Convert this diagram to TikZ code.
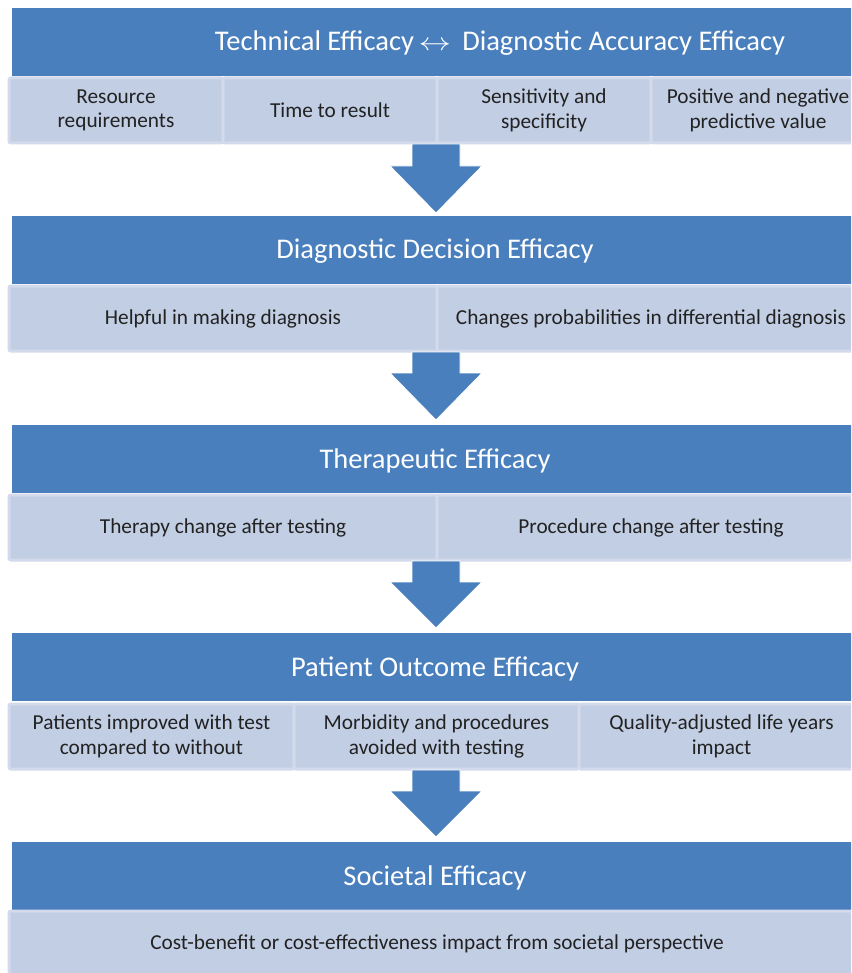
\documentclass[tikz,border=0pt]{standalone}
\usepackage{fontspec}
\setmainfont{Carlito}
\definecolor{hdrblue}{RGB}{74,127,190}
\definecolor{subfill}{RGB}{194,206,228}
\definecolor{subedge}{RGB}{210,218,235}
\definecolor{txt}{RGB}{34,34,34}
\tikzset{
  hdr/.style={fill=hdrblue, draw=none, anchor=north west, minimum width=846pt, minimum height=68pt, inner sep=0pt, outer sep=0pt},
  hdrtext/.style={text=white, font=\fontsize{28.5}{32}\selectfont, inner sep=0pt},
  sub/.style={fill=subfill, draw=subedge, line width=3pt, rounded corners=2pt, anchor=north west, minimum height=65pt, inner sep=0pt, outer sep=0pt, text=txt, font=\fontsize{21.3}{24.5}\selectfont, align=center},
  blockarrow/.style={fill=hdrblue, draw=white, line width=0.8pt, line join=miter}
}
\begin{document}
\begin{tikzpicture}[x=1pt,y=-1pt]
\useasboundingbox (0,0) rectangle (851,973);
\clip (0,0) rectangle (851,973);
\fill[white] (0,0) rectangle (851,973);
% Row 1
\node[hdr] (h1) at (12,8) {};
\node[hdrtext] (h1t) at (500,43) {Technical Efficacy\,\scalebox{1.3}[1]{$\leftrightarrow$}\,\ Diagnostic Accuracy Efficacy};
\node[sub, minimum width=214pt] (a1) at (9,78) {Resource\\requirements};
\node[sub, minimum width=214pt] (a2) at (223,78) {Time to result};
\node[sub, minimum width=214pt] (a3) at (437,78) {Sensitivity and\\specificity};
\node[sub, minimum width=214pt] (a4) at (651,78) {Positive and negative\\predictive value};
% Row 2
\node[hdr] (h2) at (12,216) {};
\node[hdrtext] (h2t) at (435,251.5) {Diagnostic Decision Efficacy};
\node[sub, minimum width=428pt] (b1) at (9,286) {Helpful in making diagnosis};
\node[sub, minimum width=428pt] (b2) at (437,286) {Changes probabilities in differential diagnosis};
% Row 3
\node[hdr] (h3) at (12,425) {};
\node[hdrtext] (h3t) at (435,460.5) {Therapeutic Efficacy};
\node[sub, minimum width=428pt] (c1) at (9,495) {Therapy change after testing};
\node[sub, minimum width=428pt] (c2) at (437,495) {Procedure change after testing};
% Row 4
\node[hdr] (h4) at (12,633) {};
\node[hdrtext] (h4t) at (435,668.5) {Patient Outcome Efficacy};
\node[sub, minimum width=285pt] (d1) at (9,704) {Patients improved with test\\compared to without};
\node[sub, minimum width=285pt] (d2) at (294,704) {Morbidity and procedures\\avoided with testing};
\node[sub, minimum width=285pt] (d3) at (579,704) {Quality-adjusted life years\\impact};
% Row 5
\node[hdr] (h5) at (12,842) {};
\node[hdrtext] (h5t) at (435,877.5) {Societal Efficacy};
\node[sub, minimum width=856pt] (e1) at (9,911) {Cost-benefit or cost-effectiveness impact from societal perspective};
% Arrows
\foreach \s/\n/\t in {144/166/213, 352/373/420, 561/582/628, 770/791/837}{
  \draw[blockarrow] (412,\s) -- (460,\s) -- (460,\n) -- (482,\n) -- (436,\t) -- (390,\n) -- (412,\n) -- cycle;
}
\end{tikzpicture}
\end{document}
